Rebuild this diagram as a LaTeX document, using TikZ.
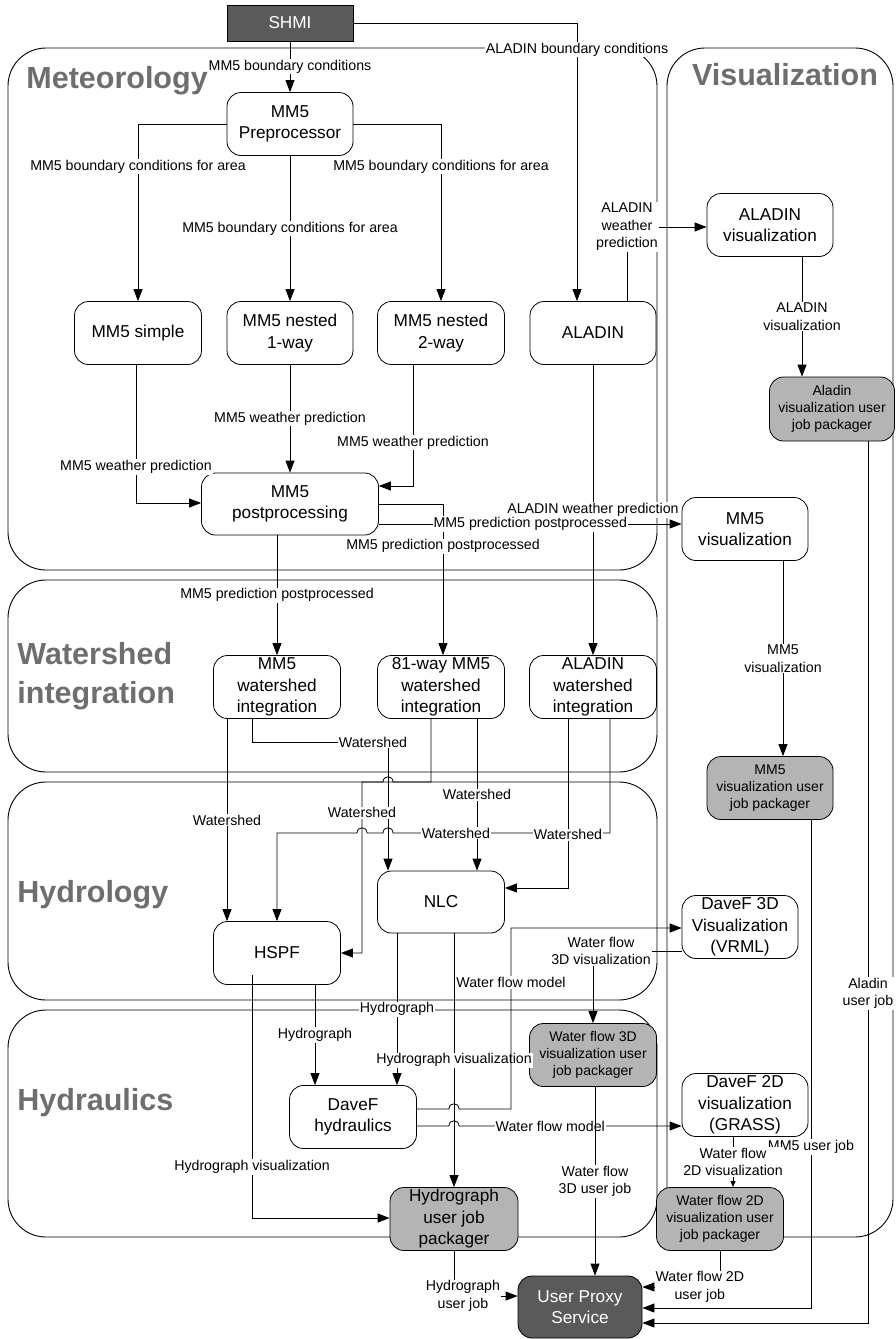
\documentclass[tikz,border=0pt]{standalone}
\usepackage{fontspec}
\setmainfont{Liberation Sans}
\usetikzlibrary{arrows.meta, calc}
\definecolor{darkbox}{HTML}{5A5A5A}
\definecolor{packgray}{HTML}{B4B4B4}
\definecolor{titlegray}{HTML}{6E6E6E}
\newcommand{\nodefont}{\fontsize{17.2}{21.5}\selectfont}
\newcommand{\packfont}{\fontsize{14}{17}\selectfont}
\newcommand{\lblfont}{\fontsize{14.2}{17.5}\selectfont}
\newcommand{\lanefont}{\fontsize{30.5}{39}\selectfont\bfseries}
\begin{document}
\begin{tikzpicture}[x=1pt, y=-1pt,
            >={Triangle[length=12pt,width=9pt]},
            line width=0.8pt,
            proc/.style={
            draw,
            rounded corners=14pt,
            minimum width=126pt,
            minimum height=63pt,
            inner sep=0pt,
            align=center,
            font=\nodefont},
            pack/.style={proc, fill=packgray, font=\packfont},
            dark/.style={proc, fill=darkbox, text=white},
            lbl/.style={fill=white, inner sep=1pt, align=center, font=\lblfont},
            lane/.style={draw, line width=0.9pt, rounded corners=38pt},
            lanetitle/.style={text=titlegray, font=\lanefont, inner sep=0pt, align=left}]
            \useasboundingbox (0,0) rectangle (895,1339);
            \draw[lane] (8,48) rectangle (657,570);
            \draw[lane] (8,580) rectangle (657,772);
            \draw[lane] (8,782) rectangle (657,1000);
            \draw[lane] (8,1010) rectangle (657,1237);
            \draw[lane] (667,48) rectangle (893,1237);
            \node[lanetitle, anchor=base west] (tmet) at (26,88) {Meteorology};
            \node[lanetitle, anchor=base] (tvis) at (785,85) {Visualization};
            \node[lanetitle, anchor=north west] (twat) at (17,642) {Watershed\\integration};
            \node[lanetitle, anchor=base west] (thyd) at (17,902) {Hydrology};
            \node[lanetitle, anchor=base west] (thyr) at (17,1110) {Hydraulics};
            \node[dark, rounded corners=0pt, minimum height=36pt] (shmi) at (290,23) {SHMI};
            \node[proc] (prep) at (290,124) {MM5\\Preprocessor};
            \node[proc, minimum width=127pt] (simple) at (138,333) {MM5 simple};
            \node[proc] (nestone) at (290,333) {MM5 nested\\1-way};
            \node[proc, minimum width=127pt] (nesttwo) at (441,333) {MM5 nested\\2-way};
            \node[proc] (aladin) at (593,333) {ALADIN};
            \node[proc, minimum width=177pt, minimum height=62pt] (post) at (290,504) {MM5\\postprocessing};
            \node[proc] (aladinvis) at (770,225) {ALADIN\\visualization};
            \node[pack, minimum width=125pt, minimum height=64pt] (aladinpack) at (832,409) {Aladin\\visualization user\\job packager};
            \node[proc] (mmvis) at (745,529) {MM5\\visualization};
            \node[proc, minimum width=127pt] (mmws) at (277,687) {MM5\\watershed\\integration};
            \node[proc, minimum width=127pt] (wayws) at (441,687) {81-way MM5\\watershed\\integration};
            \node[proc, minimum width=127pt] (aladinws) at (593,687) {ALADIN\\watershed\\integration};
            \node[pack] (mmvispack) at (770,788) {MM5\\visualization user\\job packager};
            \node[proc, minimum width=127pt, minimum height=62pt] (nlc) at (441,902) {NLC};
            \node[proc, minimum width=127pt] (hspf) at (277,953) {HSPF};
            \node[proc, minimum width=116pt] (vrml) at (740,927) {DaveF 3D\\Visualization\\(VRML)};
            \node[pack, minimum width=127pt] (wfthreepack) at (593,1055) {Water flow 3D\\visualization user\\job packager};
            \node[proc, minimum width=127pt] (davef) at (353,1117) {DaveF\\hydraulics};
            \node[proc] (grass) at (745,1105) {DaveF 2D\\visualization\\(GRASS)};
            \node[pack, minimum width=128pt, font=\nodefont] (hydpack) at (454,1219) {Hydrograph\\user job\\packager};
            \node[pack, minimum width=127pt] (wftwopack) at (720,1219) {Water flow 2D\\visualization user\\job packager};
            \node[dark, minimum width=124pt, minimum height=62pt] (proxy) at (580,1307) {User Proxy\\Service};
            \draw[->] (shmi) -- node[lbl]{MM5 boundary conditions} (prep);
            \draw[->] (shmi.east) -| node[lbl, pos=0.548]{ALADIN boundary conditions} (aladin.north -| 577,0);
            \draw[->] (prep.west) -| node[lbl, pos=0.62]{MM5 boundary conditions for area} (simple);
            \draw[->] (prep) -- node[lbl]{MM5 boundary conditions for area} (nestone);
            \draw[->] (prep.east) -| node[lbl, pos=0.62]{MM5 boundary conditions for area} (nesttwo);
            \draw[->] (simple.south -| 136,0) |- node[lbl, pos=0.37]{MM5 weather prediction} (post.west |- 0,503);
            \draw[->] (nestone) -- node[lbl]{MM5 weather prediction} (post);
            \draw[->] (nesttwo.south -| 413,0) |- node[lbl, pos=0.32]{MM5 weather prediction} (post.east |- 0,486);
            \draw[->] (aladin) -- node[lbl]{ALADIN weather prediction} (aladinws);
            \draw[->] (aladin.north -| 627,0) |- node[lbl]{ALADIN\\weather\\prediction} (aladinvis.west |- 0,227);
            \draw[->] (aladinvis.south -| 802,0) -- node[lbl]{ALADIN\\visualization} (aladinpack.north -| 802,0);
            \draw[->] (aladinpack.south -| 868,0) |- node[lbl, pos=0.313]{Aladin\\user job} (proxy.east |- 0,1323);
            \draw[->] (post.east |- 0,504) -| node[lbl, pos=0.64]{MM5 prediction postprocessed} (wayws.north -| 443,0);
            \draw[->] (post.east |- 0,524) -- node[lbl]{MM5 prediction postprocessed} (mmvis.west |- 0,524);
            \draw[->] (post.south -| mmws.north) -- node[lbl]{MM5 prediction postprocessed} (mmws);
            \draw[->] (mmvis.south -| 783,0) -- node[lbl]{MM5\\visualization} (mmvispack.north -| 783,0);
            \draw[->] (mmvispack.south -| 811,0) |- node[lbl, pos=0.335]{MM5 user job} (proxy.east |- 0,1308);
            \draw[->] (mmws.south -| 227,0) -- node[lbl]{Watershed} (hspf.north -| 227,0);
            \draw[->] (mmws.south -| 252,0) |- (388,742) node[lbl, xshift=-15pt]{Watershed} -- (nlc.north -| 388,0);
            \draw[->] (wayws.south -| 431,0) -- (431,782) -- (393,782)
                .. controls (393,775) and (383,775) .. (383,782) -- (362,782)
                |- node[lbl, pos=0.09]{Watershed} (hspf.east |- 0,953);
            \draw[->] (wayws.south -| 477,0) -- node[lbl]{Watershed} (nlc.north -| 477,0);
            \draw[->] (aladinws.south -| 610,0) |- node[lbl, pos=0.855]{Watershed} (393,833)
                .. controls (393,826) and (383,826) .. (383,833) -- (367,833)
                .. controls (367,826) and (357,826) .. (357,833) -| (hspf.north -| 277,0);
            \draw[->] (aladinws.south -| 568,0) |- node[lbl, pos=0.343]{Watershed} (nlc.east |- 0,888);
            \draw[->] (hspf.south -| 315,0) -- node[lbl]{Hydrograph} (davef.north -| 315,0);
            \draw[->] ($(hspf.south -| 252,0)+(0,-10)$) |- node[lbl, pos=0.395]{Hydrograph visualization} (hydpack.west |- 0,1218);
            \draw[->] (nlc.south -| 397,0) -- node[lbl]{Hydrograph} (davef.north -| 397,0);
            \draw[->] (nlc.south -| 454,0) -- node[lbl]{Hydrograph visualization} (hydpack.north -| 454,0);
            \draw[->] (davef.east |- 0,1109) -- (449,1109)
                .. controls (449,1102) and (459,1102) .. (459,1109)
                -| node[lbl, pos=0.85]{Water flow model} (511,928) -- (vrml.west |- 0,928);
            \draw[->] (davef.east |- 0,1126) -- (449,1126)
                .. controls (449,1119) and (459,1119) .. (459,1126)
                -- node[lbl, pos=0.41]{Water flow model} (grass.west |- 0,1126);
            \draw[->] (vrml.west |- 0,951) -| node[lbl, xshift=8pt]{Water flow\\3D visualization} (wfthreepack.north -| 593,0);
            \draw[->] (wfthreepack.south -| 595,0) -- node[lbl]{Water flow\\3D user job} (proxy.north -| 595,0);
            \draw[-{Triangle[length=6pt,width=5pt]}] (grass.south -| 733,0) -- node[lbl]{Water flow\\2D visualization} (wftwopack.north -| 733,0);
            \draw[->] (wftwopack.south -| 720,0) |- node[lbl, pos=0.63]{Water flow 2D\\user job} (proxy.east |- 0,1287);
            \draw[->] (hydpack.south) |- node[lbl, pos=0.57]{Hydrograph\\user job} (proxy.west |- 0,1296);
        \end{tikzpicture}
\end{document}
